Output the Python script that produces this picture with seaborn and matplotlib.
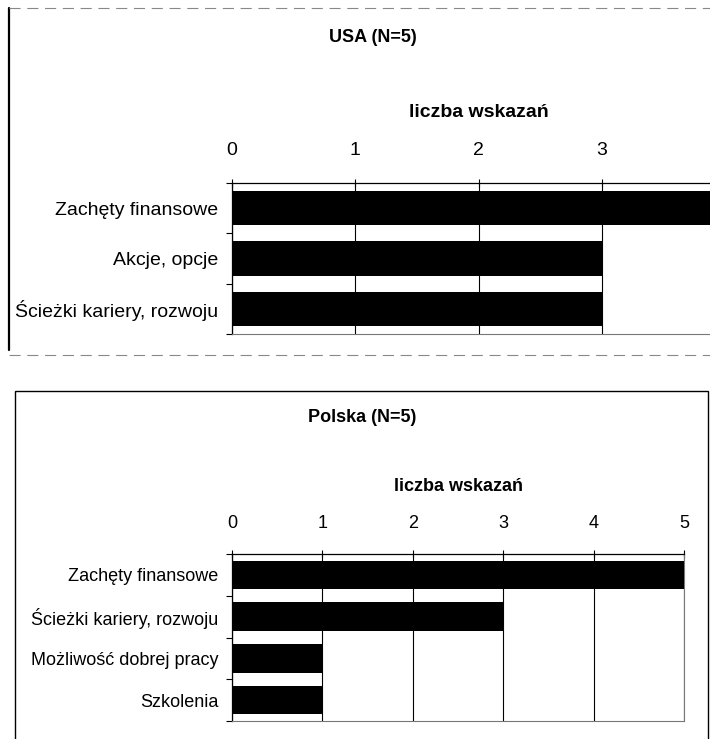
import numpy as np
import pandas as pd
import seaborn as sns
from matplotlib import pyplot as plt
from matplotlib.lines import Line2D
from matplotlib.patches import Rectangle

# dane
usa_kategorie = ['Zachęty finansowe', 'Akcje, opcje', 'Ścieżki kariery, rozwoju']
usa_wartosci = [4, 3, 3]
usa_ticks = [0, 1, 2, 3]   # "4" wypada poza kadrem skanu

pl_kategorie = ['Zachęty finansowe', 'Ścieżki kariery, rozwoju',
                'Możliwość dobrej pracy', 'Szkolenia']
pl_wartosci = [5, 3, 1, 1]
pl_ticks = [0, 1, 2, 3, 4, 5]

W, H = 710, 739

sns.set_theme(style='white')
plt.rcParams['font.family'] = ['Liberation Sans', 'DejaVu Sans']


def px(x0, y0, x1, y1):
    # prostokat w pikselach (od gory) -> wspolrzedne figury
    return [x0 / W, 1 - y1 / H, (x1 - x0) / W, (y1 - y0) / H]


def wykres(ax, kategorie, wartosci, ticks, xmax, fs, tick_pad, label_y):
    df = pd.DataFrame({'kategoria': kategorie, 'liczba': wartosci})
    sns.barplot(data=df, x='liczba', y='kategoria', orient='h', color='black',
                saturation=1, width=0.68, linewidth=0, ax=ax, zorder=3)
    ax.set_xlim(0, xmax)
    ax.set_xticks(ticks)
    ax.xaxis.tick_top()
    ax.xaxis.set_label_position('top')
    ax.tick_params(axis='x', direction='inout', length=6, width=0.8, color='black',
                   pad=tick_pad, labelsize=fs, labelcolor='black')
    ax.set_xlabel('liczba wskazań', fontsize=fs, fontweight='bold', color='black')
    ax.xaxis.set_label_coords(0.5, label_y)
    ax.set_ylabel('')
    ax.tick_params(axis='y', which='major', length=0, pad=10, labelsize=fs, labelcolor='black')
    ax.set_yticks(np.arange(len(kategorie) + 1) - 0.5, minor=True)
    ax.tick_params(axis='y', which='minor', length=4, width=0.8, direction='out',
                   left=True, color='black')
    ax.set_axisbelow(True)
    ax.grid(axis='x', color='black', lw=0.8)
    ax.grid(axis='y', visible=False)
    for s in ['top', 'left']:
        ax.spines[s].set_color('black')
        ax.spines[s].set_linewidth(0.9)
    for s in ['bottom', 'right']:
        ax.spines[s].set_color('#777777')
        ax.spines[s].set_linewidth(0.8)
        ax.spines[s].set_linestyle((0, (2, 1)))


fig = plt.figure(figsize=(W / 100, H / 100), dpi=100)

# panel USA - obszar wykresu wychodzi poza prawa krawedz (jak w skanie)
ax1 = fig.add_axes(px(232, 183, 725, 334))
wykres(ax1, usa_kategorie, usa_wartosci, usa_ticks, 4, 14, 14, 1.437)

# panel Polska
ax2 = fig.add_axes(px(232, 554, 684, 721))
wykres(ax2, pl_kategorie, pl_wartosci, pl_ticks, 5, 13, 12.8, 1.38)

fig.text(373 / W, 1 - 38 / H, 'USA (N=5)', ha='center', va='center',
         fontsize=13, fontweight='bold', color='black')
fig.text(362 / W, 1 - 417 / H, 'Polska (N=5)', ha='center', va='center',
         fontsize=13, fontweight='bold', color='black')

# ramki paneli
fig.add_artist(Line2D([9 / W, 9 / W], [1 - 8 / H, 1 - 350 / H],
                      transform=fig.transFigure, color='black', lw=1.6))
for y in [8, 355]:
    fig.add_artist(Line2D([9 / W, 1.0], [1 - y / H, 1 - y / H], transform=fig.transFigure,
                          color='#888888', lw=0.8, ls=(0, (10, 6))))
fig.add_artist(Rectangle((15 / W, 1 - 790 / H), (708 - 15) / W, (790 - 391) / H,
                         transform=fig.transFigure, fill=False, edgecolor='black', lw=1))

plt.savefig('out.png', dpi=100)
